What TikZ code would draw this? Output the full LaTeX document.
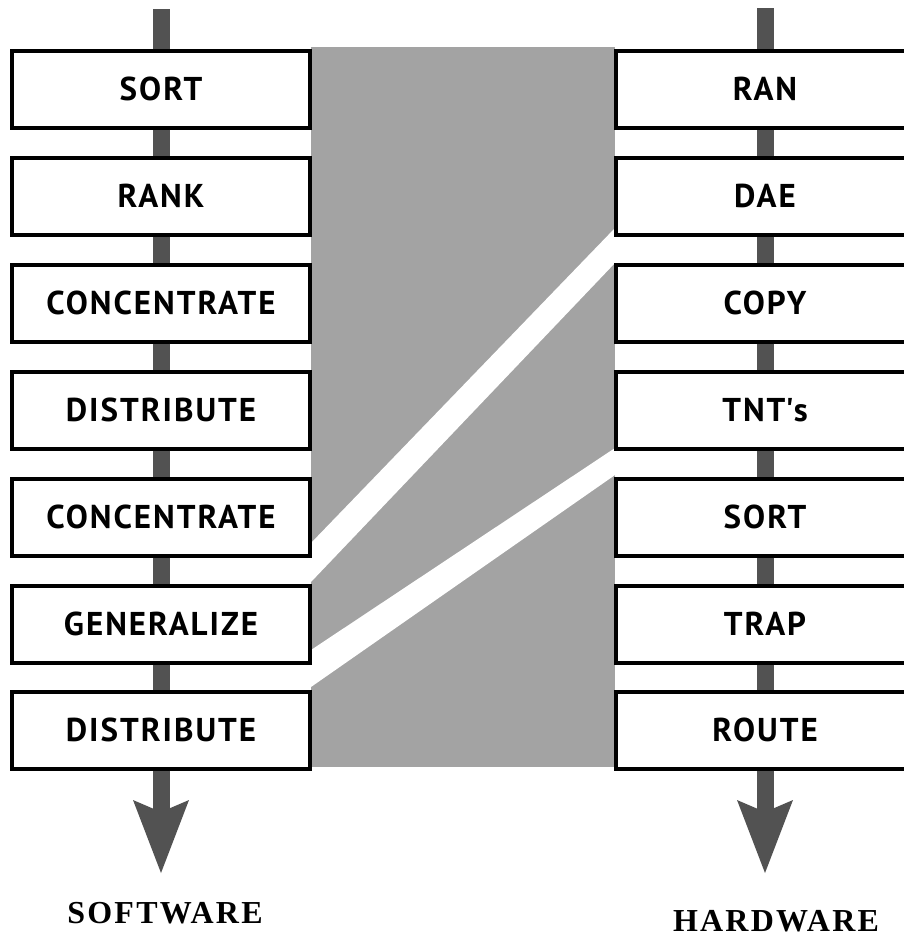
\documentclass[tikz,border=0pt]{standalone}
\usepackage{fontspec}
\usepackage{tikz}
\usetikzlibrary{arrows.meta}
\newfontfamily\stagefont{PT Sans}[LetterSpace=6]
\newfontfamily\sidefont{Liberation Serif}[LetterSpace=7]
\definecolor{bandgray}{gray}{0.64}
\definecolor{shaftgray}{gray}{0.32}

\begin{document}
\begin{tikzpicture}[x=1pt, y=-1pt,
    stage/.style={rectangle, draw, line width=4pt, fill=white, minimum width=298pt, minimum height=77pt, inner sep=0pt, font=\stagefont\bfseries\fontsize{33}{33}\selectfont},
    shaft/.style={line width=17pt, draw=shaftgray},
    flow/.style={shaft, -{Stealth[length=73pt, width=56pt, inset=12pt, line width=0pt]}},
    side/.style={font=\sidefont\bfseries\fontsize{32}{32}\selectfont}]
        \useasboundingbox (0,0) rectangle (904,937);
        % Shaded band between the two columns
        \fill[bandgray] (311,47) rectangle (615,767);
        \fill[white] (311,543) -- (615,228) -- (615,263) -- (311,582) -- cycle;
        \fill[white] (311,650) -- (615,448) -- (615,475) -- (311,687) -- cycle;
        % Software column
        \node[stage] (s1) at (161, 89) {SORT};
        \node[stage] (s2) at (161, 196) {RANK};
        \node[stage] (s3) at (161, 303) {CONCENTRATE};
        \node[stage] (s4) at (161, 410) {DISTRIBUTE};
        \node[stage] (s5) at (161, 517) {CONCENTRATE};
        \node[stage] (s6) at (161, 624) {GENERALIZE};
        \node[stage] (s7) at (161, 730) {DISTRIBUTE};
        \coordinate (sin) at (161, 9);
        \coordinate (sout) at (161, 873);
        \draw[shaft] (sin) -- (s1.north);
        \draw[shaft] (s1.south) -- (s2.north);
        \draw[shaft] (s2.south) -- (s3.north);
        \draw[shaft] (s3.south) -- (s4.north);
        \draw[shaft] (s4.south) -- (s5.north);
        \draw[shaft] (s5.south) -- (s6.north);
        \draw[shaft] (s6.south) -- (s7.north);
        \draw[flow] (s7.south) -- (sout);
        \node[side] (sw) at (165, 913) {SOFTWARE};
        % Hardware column
        \node[stage] (h1) at (765, 89) {RAN};
        \node[stage] (h2) at (765, 196) {DAE};
        \node[stage] (h3) at (765, 303) {COPY};
        \node[stage] (h4) at (765, 410) {TNT\textquotesingle s};
        \node[stage] (h5) at (765, 517) {SORT};
        \node[stage] (h6) at (765, 624) {TRAP};
        \node[stage] (h7) at (765, 730) {ROUTE};
        \coordinate (hin) at (765, 8);
        \coordinate (hout) at (765, 873);
        \draw[shaft] (hin) -- (h1.north);
        \draw[shaft] (h1.south) -- (h2.north);
        \draw[shaft] (h2.south) -- (h3.north);
        \draw[shaft] (h3.south) -- (h4.north);
        \draw[shaft] (h4.south) -- (h5.north);
        \draw[shaft] (h5.south) -- (h6.north);
        \draw[shaft] (h6.south) -- (h7.north);
        \draw[flow] (h7.south) -- (hout);
        \node[side] (hw) at (776, 921) {HARDWARE};
    \end{tikzpicture}
\end{document}
